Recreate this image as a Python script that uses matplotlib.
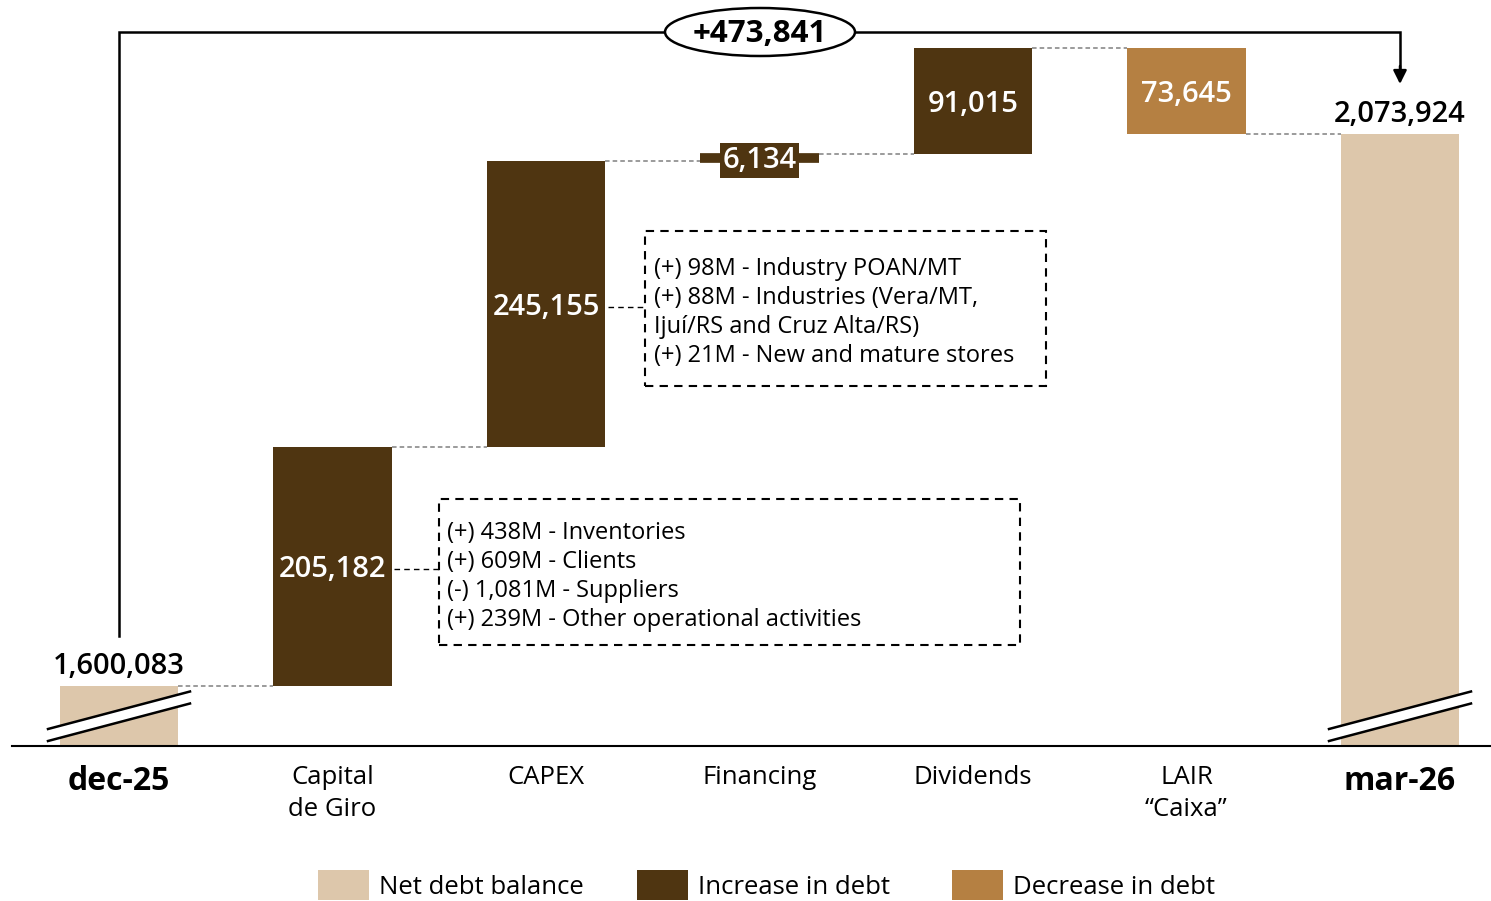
import matplotlib
matplotlib.use("Agg")
import matplotlib.pyplot as plt
from matplotlib.patches import Ellipse, Rectangle, Polygon

# ---------------- data ----------------
categories = ["dec-25", "Capital\nde Giro", "CAPEX", "Financing", "Dividends", "LAIR\n\u201cCaixa\u201d", "mar-26"]
values = [1600083, 205182, 245155, 6134, 91015, -73645, 2073924]
kinds = ["total", "inc", "inc", "inc", "inc", "dec", "total"]
value_labels = ["1,600,083", "205,182", "245,155", "6,134", "91,015", "73,645", "2,073,924"]
total_change_label = "+473,841"
legend_labels = ["Net debt balance", "Increase in debt", "Decrease in debt"]
capex_notes = ["(+) 98M - Industry POAN/MT",
               "(+) 88M - Industries (Vera/MT,",
               "Ijuí/RS and Cruz Alta/RS)",
               "(+) 21M - New and mature stores"]
wc_notes = ["(+) 438M - Inventories",
            "(+) 609M - Clients",
            "(-) 1,081M - Suppliers",
            "(+) 239M - Other operational activities"]

colors = {"total": "#DDC7AB", "inc": "#4F3511", "dec": "#B58042"}

plt.rcParams['font.family'] = ['Open Sans', 'DejaVu Sans']

W, H = 1491, 901
fig = plt.figure(figsize=(W / 100, H / 100), dpi=100)
ax = fig.add_axes([0, 0, 1, 1])
ax.axis('off')

# ---------------- scales (layout) ----------------
slot = 213.5          # px per category
x0px = 119            # px of first category centre
U = 1 / 0.0011655     # data units per pixel
ref_px = 686          # pixel row of first total's top
ax.set_xlim(-x0px / slot, (W - x0px) / slot)
ax.set_ylim(values[0] - (H - ref_px) * U, values[0] + ref_px * U)


def px(p):
    return (p - x0px) / slot


def py(p):
    return values[0] + (ref_px - p) * U


base = py(746)       # broken-axis baseline
bw = 0.553

# ---------------- bars ----------------
ends = []
running = 0
for i, (v, k) in enumerate(zip(values, kinds)):
    if k == "total":
        bottom, top = base, v
        running = v
    else:
        bottom, top = running, running + v
        running = running + v
    lo, hi = min(bottom, top), max(bottom, top)
    ax.bar(i, hi - lo, bottom=lo, width=bw, color=colors[k], zorder=2)
    ends.append(running)

# connectors
for i in range(len(values) - 1):
    ax.plot([i + bw / 2, i + 1 - bw / 2], [ends[i], ends[i]], color="#808080",
            lw=1.1, ls=(0, (3, 2)), zorder=1)

# value labels
lab_fs = 21
for i, (v, k) in enumerate(zip(values, kinds)):
    if k == "total":
        ax.text(i, v + 5 * U, value_labels[i], ha="center", va="bottom",
                fontsize=lab_fs, fontweight="semibold", color="black", zorder=5)
    else:
        prev = ends[i - 1]
        mid = (prev + ends[i]) / 2
        if abs(v) * 0.0011655 < 30:
            # small bar: extended line + boxed label
            ax.plot([i - bw / 2, i + bw / 2], [mid, mid], color=colors[k], lw=7,
                    solid_capstyle="butt", zorder=3)
            ax.text(i, mid - 3 * U, value_labels[i], ha="center", va="center",
                    fontsize=lab_fs, fontweight="semibold", color="white", zorder=5,
                    bbox=dict(boxstyle="square,pad=0.1", fc=colors[k], ec="none"))
        else:
            ax.text(i, mid - 3.5 * U, value_labels[i], ha="center", va="center",
                    fontsize=lab_fs, fontweight="semibold", color="white", zorder=5)

# baseline
ax.plot([px(12), px(1491)], [base, base], color="black", lw=1.5, zorder=4)

# break marks on total bars
for i, k in enumerate(kinds):
    if k != "total":
        continue
    y1a, y2a = py(729), py(691.5)
    xl, xr = i - 71 / slot, i + 71 / slot
    gap = 12 * U
    poly = Polygon([[xl, y1a], [xr, y2a], [xr, y2a - gap], [xl, y1a - gap]],
                   closed=True, fc="white", ec="none", zorder=6)
    ax.add_patch(poly)
    ax.plot([xl, xr], [y1a, y2a], color="black", lw=1.8, zorder=7)
    ax.plot([xl, xr], [y1a - gap, y2a - gap], color="black", lw=1.8, zorder=7)

# category labels
for i, c in enumerate(categories):
    if kinds[i] == "total":
        ax.text(i, py(781), c, ha="center", va="center", fontsize=23,
                fontweight="bold", color="black")
    elif "\n" in c:
        ax.text(i, py(793.5), c, ha="center", va="center", fontsize=18.5,
                color="black", linespacing=1.35)
    else:
        ax.text(i, py(777), c, ha="center", va="center", fontsize=18.5,
                color="black")

# ---------------- total change bracket ----------------
top_y = py(32)
ax.plot([0, 0, 6, 6], [py(636), top_y, top_y, py(70)], color="black", lw=1.8,
        zorder=3, solid_joinstyle="miter")
ax.annotate("", xy=(6, py(84)), xytext=(6, py(66)),
            arrowprops=dict(arrowstyle="-|>,head_length=0.8,head_width=0.4",
                            color="black", lw=1.8, shrinkA=0, shrinkB=0))
ell = Ellipse((px(760), top_y), 190 / slot, 48 * U, fc="white", ec="black",
              lw=1.8, zorder=4)
ax.add_patch(ell)
ax.text(px(760), top_y - 2 * U, total_change_label, ha="center", va="center",
        fontsize=22.5, fontweight="bold", zorder=5)

# ---------------- note boxes ----------------
def note_box(x1, y1, x2, y2, lines, tx, ty0, lh, conn_from, conn_y):
    r = Rectangle((px(x1), py(y2)), px(x2) - px(x1), py(y1) - py(y2), fill=False,
                  ec="black", lw=1.5, ls=(0, (4, 3)), zorder=3)
    ax.add_patch(r)
    for j, t in enumerate(lines):
        ax.text(px(tx), py(ty0 + 2 + j * lh), t, ha="left", va="center",
                fontsize=17, color="black")
    ax.plot([px(conn_from), px(x1)], [py(conn_y), py(conn_y)], color="black",
            lw=1.0, ls=(0, (4, 3)), zorder=3)

note_box(645, 231, 1046, 386, capex_notes, 654, 267, 29, 608, 307)
note_box(439, 499, 1020, 645, wc_notes, 447, 531, 29, 394, 569)

# ---------------- legend ----------------
leg_items = [(318, colors["total"]), (637, colors["inc"]), (952, colors["dec"])]
for (lx, col), lab in zip(leg_items, legend_labels):
    ax.add_patch(Rectangle((px(lx), py(900)), 51 / slot, 30 * U, fc=col, ec="none"))
    ax.text(px(lx + 61), py(888), lab, ha="left", va="center", fontsize=18.5)

fig.savefig("out.png", dpi=100)
